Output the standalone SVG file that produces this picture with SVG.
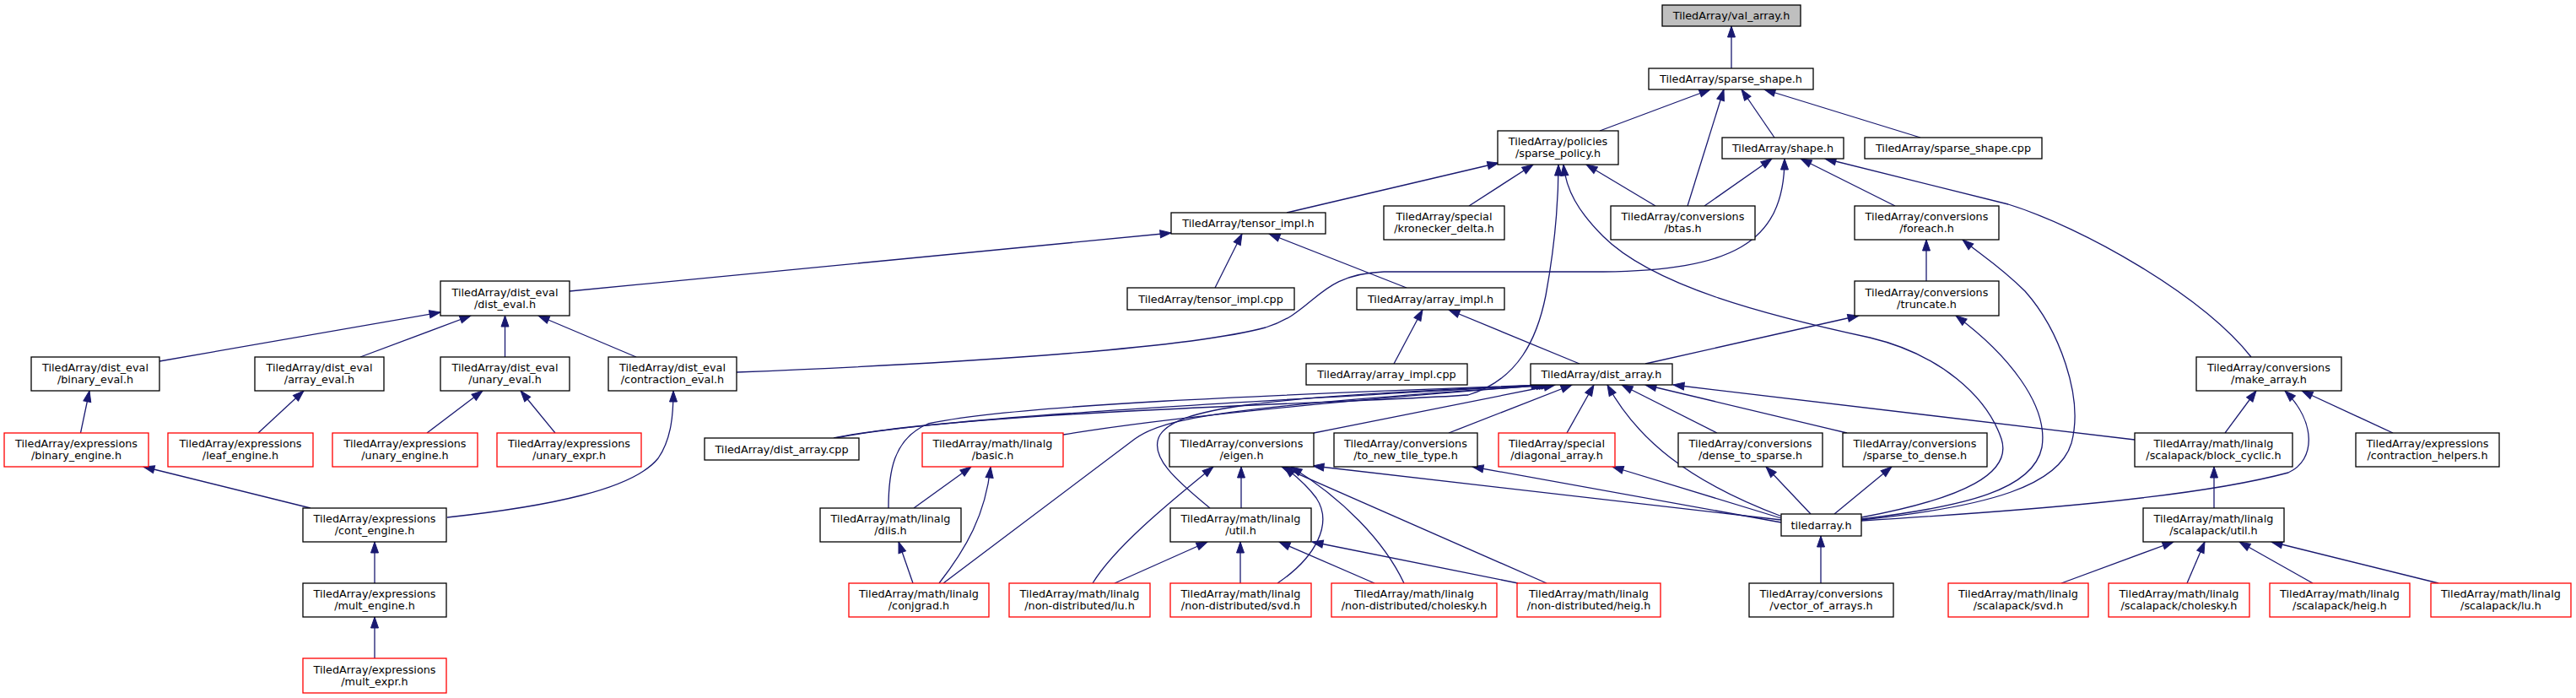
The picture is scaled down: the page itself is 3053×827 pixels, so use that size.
<svg xmlns="http://www.w3.org/2000/svg" width="3053" height="827" viewBox="0 0 3053 827">
<style>
.n rect{fill:#fff;stroke:#000;stroke-width:1.3}
.r rect{stroke:#f00}
.g rect{fill:#bfbfbf}
text{font-family:"DejaVu Sans","Liberation Sans",sans-serif;font-size:12.8px;text-anchor:middle;fill:#000}
#edges path{fill:none;stroke:#191970;stroke-width:1.3;marker-end:url(#a)}
</style>
<defs>
<marker id="a" markerUnits="userSpaceOnUse" markerWidth="15" markerHeight="11" refX="13" refY="4.5" orient="auto" style="overflow:visible"><path d="M0,0L13,4.5L0,9z" fill="#191970" stroke="#191970" stroke-width="1"/></marker>
</defs>
<rect width="3053" height="827" fill="#fff"/>
<g id="edges">
<path d="M2052,81 L2052,31"/>
<path d="M1896,155 L2027,106"/>
<path d="M2000,244 L2043,106"/>
<path d="M2103,163 L2064,106"/>
<path d="M2276,163 L2091,106"/>
<path d="M1525,252 L1776,193"/>
<path d="M1741,244 L1817,195"/>
<path d="M1962,244 L1880,195"/>
<path d="M990,519 C1150,487 1600,478 1740,468 C1800,450 1822,400 1832,350 C1843,290 1847,240 1847,195"/>
<path d="M2206,613 C2330,590 2385,560 2372,520 C2355,470 2300,420 2216,400 C2100,375 1960,340 1900,280 C1870,250 1856,225 1853,195"/>
<path d="M2206,615 C2330,600 2410,580 2420,530 C2428,480 2380,420 2318,374"/>
<path d="M2206,616 C2360,600 2440,575 2455,525 C2470,470 2440,390 2400,345 C2370,315 2345,300 2326,284"/>
<path d="M2206,617 C2400,605 2600,590 2712,560 C2745,545 2745,500 2708,463"/>
<path d="M2283,333 L2283,284"/>
<path d="M2246,244 L2134,188"/>
<path d="M2668,423 C2610,350 2470,270 2380,242 L2163,188"/>
<path d="M2020,244 L2100,188"/>
<path d="M873,441 C1100,432 1400,415 1500,388 C1560,370 1560,325 1640,322 L1900,322 C2050,320 2115,290 2115,188"/>
<path d="M675,345 L1388,276"/>
<path d="M1440,341 L1472,277"/>
<path d="M1667,341 L1504,277"/>
<path d="M1652,431 L1686,367"/>
<path d="M1872,431 L1717,367"/>
<path d="M1950,431 L2203,374"/>
<path d="M189,428 L522,370"/>
<path d="M427,423 L558,374"/>
<path d="M598.5,423 L598.5,374"/>
<path d="M754,423 L638,374"/>
<path d="M95.5,513 L106,463"/>
<path d="M306,513 L360,463"/>
<path d="M506,513 L572,463"/>
<path d="M658,513 L617,463"/>
<path d="M368,602 L170,553"/>
<path d="M530,613 C650,600 750,580 780,543 C796,520 798,490 798,463"/>
<path d="M444,691 L444,642"/>
<path d="M444,780 L444,731"/>
<path d="M1083,602 L1151,553"/>
<path d="M1113,691 C1145,650 1168,610 1174,553"/>
<path d="M1082,691 L1065,642"/>
<path d="M1053,602 C1053,560 1058,520 1100,502 C1200,480 1500,468 1831,456"/>
<path d="M1260,515 C1400,492 1650,470 1834,456"/>
<path d="M1118,691 L1345,520 C1380,495 1450,482 1837,456"/>
<path d="M1434,602 C1395,570 1360,540 1375,515 C1395,485 1480,470 1840,456"/>
<path d="M1557,513 L1843,456"/>
<path d="M988,519 C1100,495 1500,475 1828,456"/>
<path d="M1717,513 L1863,456"/>
<path d="M1857,513 L1889,456"/>
<path d="M2112,612 C2000,570 1940,520 1905,456"/>
<path d="M2035,513 L1922,456"/>
<path d="M2189,513 L1950,456"/>
<path d="M2530,521 L1983,456"/>
<path d="M2111,616 L1556,552"/>
<path d="M2111,619 L1745,553"/>
<path d="M2111,614 L1911,553"/>
<path d="M2146,609 L2093,553"/>
<path d="M2174,609 L2242,553"/>
<path d="M2158,691 L2158,635"/>
<path d="M2637,513 L2674,463"/>
<path d="M2836,513 L2728,463"/>
<path d="M2624,602 L2624,553"/>
<path d="M2443,691 L2576,642"/>
<path d="M2592,691 L2613,642"/>
<path d="M2741,691 L2654,642"/>
<path d="M2890,691 L2692,642"/>
<path d="M1471,602 L1471,553"/>
<path d="M1295,691 C1320,650 1380,600 1438,553"/>
<path d="M1321,691 L1431,642"/>
<path d="M1470,691 L1470,642"/>
<path d="M1514,691 C1560,660 1580,620 1560,590 C1545,570 1530,560 1522,553"/>
<path d="M1629,691 L1516,642"/>
<path d="M1799,691 L1555,642"/>
<path d="M1664,691 C1640,640 1590,590 1530,553"/>
<path d="M1833,691 L1519,553"/>
</g>
<g id="val_array" class="n g"><rect x="1970" y="6" width="164" height="25"/><text x="2052" y="23">TiledArray/val_array.h</text></g>
<g id="sparse_shape" class="n"><rect x="1954" y="81" width="195" height="25"/><text x="2051.5" y="98">TiledArray/sparse_shape.h</text></g>
<g id="sparse_policy" class="n"><rect x="1775" y="155" width="143" height="40"/><text x="1846.5" y="172">TiledArray/policies</text><text x="1846.5" y="186">/sparse_policy.h</text></g>
<g id="shape" class="n"><rect x="2041" y="163" width="144" height="25"/><text x="2113" y="180">TiledArray/shape.h</text></g>
<g id="sparse_shape_cpp" class="n"><rect x="2210" y="163" width="210" height="25"/><text x="2315" y="180">TiledArray/sparse_shape.cpp</text></g>
<g id="tensor_impl" class="n"><rect x="1388" y="252" width="183" height="25"/><text x="1479.5" y="269">TiledArray/tensor_impl.h</text></g>
<g id="kronecker_delta" class="n"><rect x="1640" y="244" width="143" height="40"/><text x="1711.5" y="261">TiledArray/special</text><text x="1711.5" y="275">/kronecker_delta.h</text></g>
<g id="btas" class="n"><rect x="1909" y="244" width="171" height="40"/><text x="1994.5" y="261">TiledArray/conversions</text><text x="1994.5" y="275">/btas.h</text></g>
<g id="foreach" class="n"><rect x="2198" y="244" width="171" height="40"/><text x="2283.5" y="261">TiledArray/conversions</text><text x="2283.5" y="275">/foreach.h</text></g>
<g id="dist_eval" class="n"><rect x="522" y="333" width="153" height="41"/><text x="598.5" y="350.5">TiledArray/dist_eval</text><text x="598.5" y="364.5">/dist_eval.h</text></g>
<g id="tensor_impl_cpp" class="n"><rect x="1336" y="341" width="198" height="26"/><text x="1435" y="358.5">TiledArray/tensor_impl.cpp</text></g>
<g id="array_impl" class="n"><rect x="1608" y="341" width="175" height="26"/><text x="1695.5" y="358.5">TiledArray/array_impl.h</text></g>
<g id="truncate" class="n"><rect x="2198" y="333" width="171" height="41"/><text x="2283.5" y="350.5">TiledArray/conversions</text><text x="2283.5" y="364.5">/truncate.h</text></g>
<g id="binary_eval" class="n"><rect x="37" y="423" width="152" height="40"/><text x="113" y="440">TiledArray/dist_eval</text><text x="113" y="454">/binary_eval.h</text></g>
<g id="array_eval" class="n"><rect x="302" y="423" width="153" height="40"/><text x="378.5" y="440">TiledArray/dist_eval</text><text x="378.5" y="454">/array_eval.h</text></g>
<g id="unary_eval" class="n"><rect x="522" y="423" width="153" height="40"/><text x="598.5" y="440">TiledArray/dist_eval</text><text x="598.5" y="454">/unary_eval.h</text></g>
<g id="contraction_eval" class="n"><rect x="721" y="423" width="152" height="40"/><text x="797" y="440">TiledArray/dist_eval</text><text x="797" y="454">/contraction_eval.h</text></g>
<g id="array_impl_cpp" class="n"><rect x="1548" y="431" width="191" height="25"/><text x="1643.5" y="448">TiledArray/array_impl.cpp</text></g>
<g id="dist_array" class="n"><rect x="1814" y="431" width="168" height="25"/><text x="1898" y="448">TiledArray/dist_array.h</text></g>
<g id="make_array" class="n"><rect x="2603" y="423" width="172" height="40"/><text x="2689" y="440">TiledArray/conversions</text><text x="2689" y="454">/make_array.h</text></g>
<g id="binary_engine" class="n r"><rect x="5" y="513" width="171" height="40"/><text x="90.5" y="530">TiledArray/expressions</text><text x="90.5" y="544">/binary_engine.h</text></g>
<g id="leaf_engine" class="n r"><rect x="199" y="513" width="172" height="40"/><text x="285" y="530">TiledArray/expressions</text><text x="285" y="544">/leaf_engine.h</text></g>
<g id="unary_engine" class="n r"><rect x="394" y="513" width="172" height="40"/><text x="480" y="530">TiledArray/expressions</text><text x="480" y="544">/unary_engine.h</text></g>
<g id="unary_expr" class="n r"><rect x="589" y="513" width="171" height="40"/><text x="674.5" y="530">TiledArray/expressions</text><text x="674.5" y="544">/unary_expr.h</text></g>
<g id="dist_array_cpp" class="n"><rect x="835" y="519" width="183" height="26"/><text x="926.5" y="536.5">TiledArray/dist_array.cpp</text></g>
<g id="basic" class="n r"><rect x="1093" y="513" width="167" height="40"/><text x="1176.5" y="530">TiledArray/math/linalg</text><text x="1176.5" y="544">/basic.h</text></g>
<g id="eigen" class="n"><rect x="1386" y="513" width="171" height="40"/><text x="1471.5" y="530">TiledArray/conversions</text><text x="1471.5" y="544">/eigen.h</text></g>
<g id="to_new_tile_type" class="n"><rect x="1581" y="513" width="170" height="40"/><text x="1666" y="530">TiledArray/conversions</text><text x="1666" y="544">/to_new_tile_type.h</text></g>
<g id="diagonal_array" class="n r"><rect x="1776" y="513" width="138" height="40"/><text x="1845" y="530">TiledArray/special</text><text x="1845" y="544">/diagonal_array.h</text></g>
<g id="dense_to_sparse" class="n"><rect x="1989" y="513" width="171" height="40"/><text x="2074.5" y="530">TiledArray/conversions</text><text x="2074.5" y="544">/dense_to_sparse.h</text></g>
<g id="sparse_to_dense" class="n"><rect x="2184" y="513" width="171" height="40"/><text x="2269.5" y="530">TiledArray/conversions</text><text x="2269.5" y="544">/sparse_to_dense.h</text></g>
<g id="block_cyclic" class="n"><rect x="2530" y="513" width="187" height="40"/><text x="2623.5" y="530">TiledArray/math/linalg</text><text x="2623.5" y="544">/scalapack/block_cyclic.h</text></g>
<g id="contraction_helpers" class="n"><rect x="2792" y="513" width="170" height="40"/><text x="2877" y="530">TiledArray/expressions</text><text x="2877" y="544">/contraction_helpers.h</text></g>
<g id="cont_engine" class="n"><rect x="359" y="602" width="170" height="40"/><text x="444" y="619">TiledArray/expressions</text><text x="444" y="633">/cont_engine.h</text></g>
<g id="diis" class="n"><rect x="972" y="602" width="167" height="40"/><text x="1055.5" y="619">TiledArray/math/linalg</text><text x="1055.5" y="633">/diis.h</text></g>
<g id="linalg_util" class="n"><rect x="1387" y="602" width="167" height="40"/><text x="1470.5" y="619">TiledArray/math/linalg</text><text x="1470.5" y="633">/util.h</text></g>
<g id="tiledarray" class="n"><rect x="2111" y="609" width="95" height="26"/><text x="2158.5" y="626.5">tiledarray.h</text></g>
<g id="scalapack_util" class="n"><rect x="2540" y="602" width="167" height="40"/><text x="2623.5" y="619">TiledArray/math/linalg</text><text x="2623.5" y="633">/scalapack/util.h</text></g>
<g id="mult_engine" class="n"><rect x="359" y="691" width="170" height="40"/><text x="444" y="708">TiledArray/expressions</text><text x="444" y="722">/mult_engine.h</text></g>
<g id="conjgrad" class="n r"><rect x="1006" y="691" width="166" height="40"/><text x="1089" y="708">TiledArray/math/linalg</text><text x="1089" y="722">/conjgrad.h</text></g>
<g id="nd_lu" class="n r"><rect x="1196" y="691" width="167" height="40"/><text x="1279.5" y="708">TiledArray/math/linalg</text><text x="1279.5" y="722">/non-distributed/lu.h</text></g>
<g id="nd_svd" class="n r"><rect x="1387" y="691" width="167" height="40"/><text x="1470.5" y="708">TiledArray/math/linalg</text><text x="1470.5" y="722">/non-distributed/svd.h</text></g>
<g id="nd_cholesky" class="n r"><rect x="1578" y="691" width="196" height="40"/><text x="1676" y="708">TiledArray/math/linalg</text><text x="1676" y="722">/non-distributed/cholesky.h</text></g>
<g id="nd_heig" class="n r"><rect x="1798" y="691" width="170" height="40"/><text x="1883" y="708">TiledArray/math/linalg</text><text x="1883" y="722">/non-distributed/heig.h</text></g>
<g id="vector_of_arrays" class="n"><rect x="2073" y="691" width="171" height="40"/><text x="2158.5" y="708">TiledArray/conversions</text><text x="2158.5" y="722">/vector_of_arrays.h</text></g>
<g id="sc_svd" class="n r"><rect x="2309" y="691" width="166" height="40"/><text x="2392" y="708">TiledArray/math/linalg</text><text x="2392" y="722">/scalapack/svd.h</text></g>
<g id="sc_cholesky" class="n r"><rect x="2499" y="691" width="167" height="40"/><text x="2582.5" y="708">TiledArray/math/linalg</text><text x="2582.5" y="722">/scalapack/cholesky.h</text></g>
<g id="sc_heig" class="n r"><rect x="2690" y="691" width="166" height="40"/><text x="2773" y="708">TiledArray/math/linalg</text><text x="2773" y="722">/scalapack/heig.h</text></g>
<g id="sc_lu" class="n r"><rect x="2881" y="691" width="166" height="40"/><text x="2964" y="708">TiledArray/math/linalg</text><text x="2964" y="722">/scalapack/lu.h</text></g>
<g id="mult_expr" class="n r"><rect x="359" y="780" width="170" height="41"/><text x="444" y="797.5">TiledArray/expressions</text><text x="444" y="811.5">/mult_expr.h</text></g>
</svg>
